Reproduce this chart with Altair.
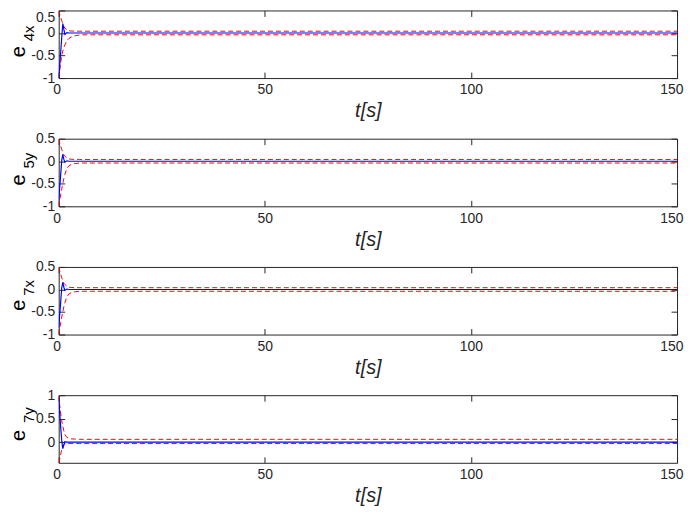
import altair as alt
import pandas as pd

# time samples (s)
t = [0, 0.25, 0.5, 0.75, 1.0, 1.25, 1.5, 2, 2.5, 3, 4, 5, 6, 8, 10, 150]

# e_4x
e4x_err = [-1.0, -0.72, -0.40, -0.08, 0.21, 0.08, -0.03, 0.01, 0, 0, 0, 0, 0, 0, 0, 0]
e4x_up = [0.5, 0.42, 0.34, 0.27, 0.20, 0.15, 0.11, 0.07, 0.05, 0.045, 0.04, 0.04, 0.04, 0.04, 0.04, 0.04]
e4x_lo = [-1.0, -0.82, -0.65, -0.50, -0.40, -0.32, -0.26, -0.17, -0.12, -0.09, -0.06, -0.045, -0.04, -0.04, -0.04, -0.04]

# e_5y
e5y_err = [-0.87, -0.57, -0.27, 0.03, 0.15, 0.04, -0.02, 0.01, 0, 0, 0, 0, 0, 0, 0, 0]
e5y_up = [0.5, 0.41, 0.33, 0.26, 0.19, 0.14, 0.11, 0.07, 0.05, 0.045, 0.04, 0.04, 0.04, 0.04, 0.04, 0.04]
e5y_lo = [-1.0, -0.86, -0.73, -0.61, -0.49, -0.38, -0.29, -0.16, -0.10, -0.07, -0.05, -0.042, -0.04, -0.04, -0.04, -0.04]

# e_7x
e7x_err = [-0.85, -0.55, -0.25, 0.05, 0.16, 0.05, -0.02, 0.01, 0, 0, 0, 0, 0, 0, 0, 0]
e7x_up = [0.5, 0.41, 0.33, 0.26, 0.19, 0.14, 0.11, 0.07, 0.05, 0.045, 0.04, 0.04, 0.04, 0.04, 0.04, 0.04]
e7x_lo = [-1.0, -0.86, -0.73, -0.61, -0.49, -0.38, -0.29, -0.16, -0.10, -0.07, -0.05, -0.042, -0.04, -0.04, -0.04, -0.04]

# e_7y
e7y_err = [0.95, 0.62, 0.30, 0.02, -0.14, -0.06, 0.01, 0.0, 0, 0, 0, 0, 0, 0, 0, 0]
e7y_up = [1.0, 0.78, 0.60, 0.45, 0.33, 0.24, 0.16, 0.10, 0.08, 0.07, 0.065, 0.06, 0.06, 0.06, 0.06, 0.06]
e7y_lo = [-0.44, -0.36, -0.25, -0.15, -0.08, -0.05, -0.035, -0.03, -0.03, -0.03, -0.03, -0.03, -0.03, -0.03, -0.03, -0.03]

x_ticks = [0, 50, 100, 150]
y_ticks_a = [-1, -0.5, 0, 0.5]
y_ticks_b = [0, 0.5, 1]

FONT = "Liberation Sans"
AX = "#262626"
W, H = 622, 68
TK = 6
LBL = "'' + datum.value"


def tick_axis(orient, values):
    return alt.Axis(orient=orient, values=values, labels=False, domain=False,
                    grid=False, ticks=True, tickSize=TK, offset=-TK,
                    tickColor=AX, tickWidth=1, title=None)


def panel(err, up, lo, ydom, yticks, sub, e_y, sub_y, flush_top=False):
    n = len(t)
    df = pd.DataFrame({
        "t": t * 3,
        "v": err + up + lo,
        "s": ["err"] * n + ["up"] * n + ["lo"] * n,
    })
    xs = alt.Scale(domain=[0, 150], nice=False, zero=False)
    ys = alt.Scale(domain=ydom, nice=False, zero=False)
    main_vals = yticks[:-1] if flush_top else yticks

    red = alt.Chart(df).transform_filter("datum.s != 'err'").mark_line(
        color="#ff0000", strokeDash=[5, 3], strokeWidth=1, clip=True
    ).encode(
        x=alt.X("t:Q", scale=xs, axis=alt.Axis(
            orient="bottom", values=x_ticks, labelExpr=LBL, ticks=False,
            domain=False, grid=False, labelPadding=5, labelFlush=True,
            labelFlushOffset=6,
            title="t[s]", titleFontStyle="italic", titleFontWeight="normal",
            titleFontSize=20, titlePadding=4)),
        y=alt.Y("v:Q", scale=ys, axis=alt.Axis(
            orient="left", values=main_vals, labelExpr=LBL, ticks=False,
            domain=False, grid=False, labelPadding=4, title=None)),
        detail="s:N",
    )
    blue = alt.Chart(df).transform_filter("datum.s == 'err'").mark_line(
        color="#0000ff", strokeWidth=1.2, clip=True
    ).encode(
        x=alt.X("t:Q", scale=xs, axis=None),
        y=alt.Y("v:Q", scale=ys, axis=None),
    )
    ta = alt.Chart(df).mark_line(strokeOpacity=0).encode(
        x=alt.X("t:Q", scale=xs, axis=tick_axis("top", x_ticks)),
        y=alt.Y("v:Q", scale=ys, axis=tick_axis("right", yticks)),
    )
    tb = alt.Chart(df).mark_line(strokeOpacity=0).encode(
        x=alt.X("t:Q", scale=xs, axis=tick_axis("bottom", x_ticks)),
        y=alt.Y("v:Q", scale=ys, axis=tick_axis("left", yticks)),
    )
    layers = [red, blue, ta, tb]
    if flush_top:
        tl = alt.Chart(df).mark_line(strokeOpacity=0).encode(
            x=alt.X("t:Q", scale=xs, axis=None),
            y=alt.Y("v:Q", scale=ys, axis=alt.Axis(
                orient="left", values=yticks[-1:], labelExpr=LBL, ticks=False,
                domain=False, grid=False, labelPadding=4, title=None,
                labelBaseline="top")),
        )
        layers.append(tl)
    lab = pd.DataFrame({"k": [0]})
    te = alt.Chart(lab).mark_text(
        text="e", angle=270, align="left", baseline="alphabetic",
        font=FONT, fontSize=20, color="black"
    ).encode(x=alt.value(-34), y=alt.value(e_y))
    ts = alt.Chart(lab).mark_text(
        text=sub, angle=270, align="left", baseline="alphabetic",
        font=FONT, fontSize=15, color="black"
    ).encode(x=alt.value(-25), y=alt.value(sub_y))
    layers += [te, ts]
    return alt.layer(*layers).resolve_axis(
        x="independent", y="independent"
    ).properties(width=W, height=H)


p1 = panel(e4x_err, e4x_up, e4x_lo, [-1, 0.5], y_ticks_a, "4x", 47, 31, True)
p2 = panel(e5y_err, e5y_up, e5y_lo, [-1, 0.5], y_ticks_a, "5y", 47, 30)
p3 = panel(e7x_err, e7x_up, e7x_lo, [-1, 0.5], y_ticks_a, "7x", 44, 29)
p4 = panel(e7y_err, e7y_up, e7y_lo, [-0.44, 1], y_ticks_b, "7y", 46, 28)

chart = alt.vconcat(p1, p2, p3, p4, spacing=9).properties(
    padding={"left": 0, "top": 0, "right": 0, "bottom": 0}
).configure_view(
    stroke=AX, strokeWidth=1
).configure_axis(
    labelFont=FONT, labelFontSize=14, labelColor=AX,
    titleFont=FONT, titleColor=AX,
)

chart.save("out.html", embed_options={"renderer": "svg", "actions": False})
